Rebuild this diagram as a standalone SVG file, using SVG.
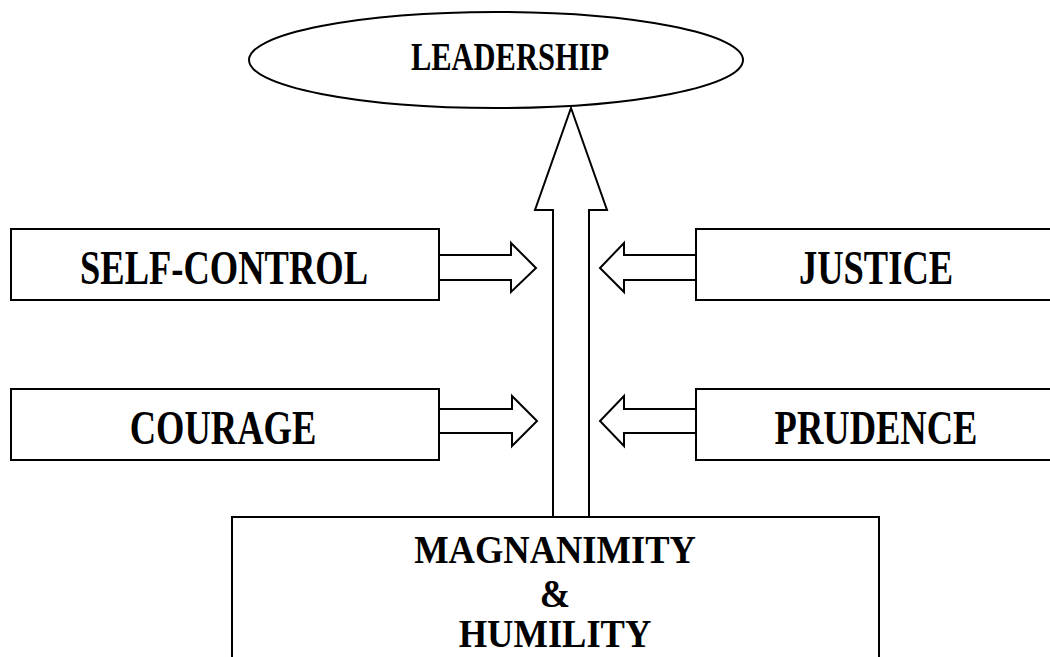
<svg xmlns="http://www.w3.org/2000/svg" width="1050" height="657" viewBox="0 0 1050 657">
<style>
.box{fill:#fff;stroke:#000;stroke-width:2}
.arr{fill:#fff;stroke:#000;stroke-width:2;stroke-linejoin:miter}
.lbl{font-family:"Liberation Serif","Times New Roman",serif;font-weight:bold;fill:#000;text-anchor:middle}
</style>
<rect width="1050" height="657" fill="#fff"/>
<g id="leadership">
<ellipse class="box" cx="496" cy="60" rx="247" ry="48"/>
<text class="lbl" font-size="30.5" transform="translate(510,70) scale(1,1.34)">LEADERSHIP</text>
</g>
<g id="self-control">
<rect class="box" x="11" y="229" width="428" height="71"/>
<text class="lbl" font-size="36.5" transform="translate(224,284) scale(1,1.35)">SELF-CONTROL</text>
</g>
<g id="justice">
<rect class="box" x="696" y="229" width="370" height="71"/>
<text class="lbl" font-size="36.5" transform="translate(876,284) scale(1,1.35)">JUSTICE</text>
</g>
<g id="courage">
<rect class="box" x="11" y="389" width="428" height="71"/>
<text class="lbl" font-size="36.5" transform="translate(223,444) scale(1,1.35)">COURAGE</text>
</g>
<g id="prudence">
<rect class="box" x="696" y="389" width="370" height="71"/>
<text class="lbl" font-size="36.5" transform="translate(876,444) scale(1,1.35)">PRUDENCE</text>
</g>
<g id="magnanimity">
<rect class="box" x="232" y="517" width="647" height="160"/>
<text class="lbl" font-size="36.5" transform="translate(555,563) scale(1,1.08)">MAGNANIMITY</text>
<text class="lbl" font-size="36.5" transform="translate(555,607) scale(1,1.08)">&amp;</text>
<text class="lbl" font-size="36.5" transform="translate(555,647) scale(1,1.08)">HUMILITY</text>
</g>
<g id="connectors">
<polygon class="arr" points="571,108 607,210 589,210 589,517 553,517 553,210 535,210"/>
<polygon class="arr" points="439,255 511,255 511,243 536,268 511,292 511,280 439,280"/>
<polygon class="arr" points="439,409 512,409 512,396 537,421 512,446 512,433 439,433"/>
<polygon class="arr" points="696,255 624,255 624,243 600,268 624,292 624,280 696,280"/>
<polygon class="arr" points="696,409 624,409 624,396 600,421 624,446 624,433 696,433"/>
</g>
</svg>
